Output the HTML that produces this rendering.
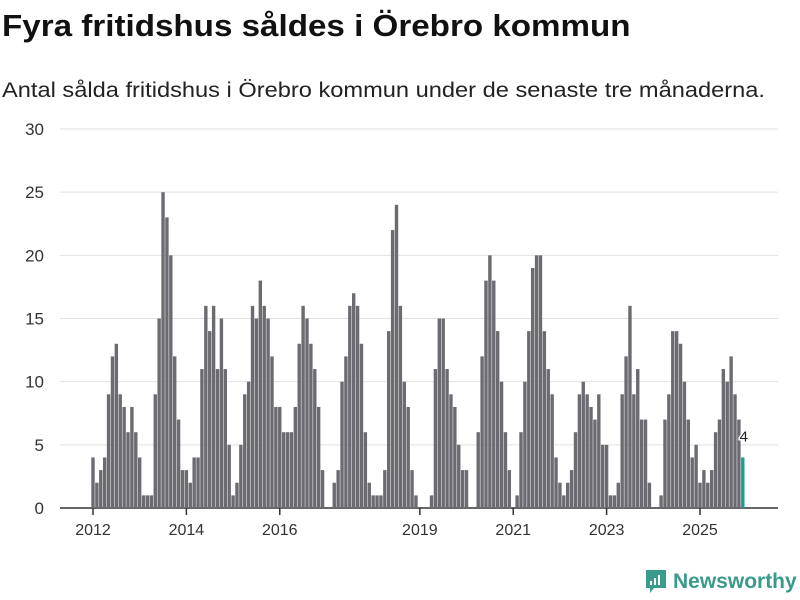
<!DOCTYPE html>
<html><head><meta charset="utf-8"><style>
body{margin:0;width:800px;height:600px;background:#fff;font-family:"Liberation Sans","DejaVu Sans",sans-serif;overflow:hidden;position:relative}
#title{position:absolute;left:2px;top:8px;font-size:31px;font-weight:bold;color:#111;margin:0;white-space:nowrap;transform:scaleX(1.07);transform-origin:left top}
#sub{position:absolute;left:2px;top:79px;font-size:21px;color:#222;white-space:nowrap;transform:scaleX(1.125);transform-origin:left top}
svg{position:absolute;left:0;top:0}
</style></head><body>
<h1 id="title">Fyra fritidshus såldes i Örebro kommun</h1>
<div id="sub">Antal sålda fritidshus i Örebro kommun under de senaste tre månaderna.</div>
<svg id="chart" width="800" height="600"></svg>
<div style="position:absolute;left:645px;top:569px;display:flex;align-items:center">
<svg width="22" height="26" style="position:static"><path d="M1 1h20v18H9l-4 5v-5H1z" fill="#3a9a8c"/><rect x="5" y="12" width="2" height="4" fill="#fff"/><rect x="9" y="9" width="2" height="7" fill="#fff"/><rect x="13" y="6" width="2" height="10" fill="#fff"/></svg>
<span style="font-size:21px;font-weight:bold;color:#3a9a8c;margin-left:6px">Newsworthy</span></div>
<script>
const values=[4,2,3,4,9,12,13,9,8,6,8,6,
4,1,1,1,9,15,25,23,20,12,7,3,
3,2,4,4,11,16,14,16,11,15,11,5,
1,2,5,9,10,16,15,18,16,15,12,8,
8,6,6,6,8,13,16,15,13,11,8,3,
0,0,2,3,10,12,16,17,16,13,6,2,
1,1,1,3,14,22,24,16,10,8,3,1,
0,0,0,1,11,15,15,11,9,8,5,3,
3,0,0,6,12,18,20,18,14,10,6,3,
0,1,6,10,14,19,20,20,14,11,9,4,
2,1,2,3,6,9,10,9,8,7,9,5,
5,1,1,2,9,12,16,9,11,7,7,2,
0,0,1,7,9,14,14,13,10,7,4,5,
2,3,2,3,6,7,11,10,12,9,7,4];
const startYear=2012;
const yTicks=[0,5,10,15,20,25,30];
const xTickYears=[2012,2014,2016,2019,2021,2023,2025];
const svg=document.getElementById('chart');
const NS='http://www.w3.org/2000/svg';
const y=v=>508-v*(379/30);
const x=i=>93+i*3.891;
function mk(t,a){const e=document.createElementNS(NS,t);for(const k in a)e.setAttribute(k,a[k]);svg.appendChild(e);return e;}
yTicks.forEach(t=>{
 const g=mk('line',{x1:60,x2:778,y1:y(t),y2:y(t),stroke:t===0?'#333':'#e2e2e2','stroke-width':t===0?1.5:1});
 
 
 const l=mk('text',{x:44,y:y(t)+6,'text-anchor':'end','font-size':17,fill:'#333'});
 l.textContent=t;
 
 
});
values.forEach((v,i)=>{
 const last=i===values.length-1;
 const r=mk('rect',{x:x(i)-1.7,y:y(v),width:3.4,height:508-y(v),fill:last?'#1a9e96':'#6c6b71'});
 
 
 if(last){
  const t=mk('text',{x:x(i)+1,y:y(v)-16,'text-anchor':'middle','font-size':15,fill:'#222',stroke:'#fff','stroke-width':3,'paint-order':'stroke'});
  t.textContent=v;
  
  
 }
});
xTickYears.forEach(yr=>{
 const i=(yr-startYear)*12;
 const tk=mk('line',{x1:x(i),x2:x(i),y1:508,y2:515,stroke:'#333','stroke-width':1.5});
 
 
 const l=mk('text',{x:x(i),y:535,'text-anchor':'middle','font-size':16,fill:'#333'});
 l.textContent=yr;
 
 
});
</script>
</body></html>
